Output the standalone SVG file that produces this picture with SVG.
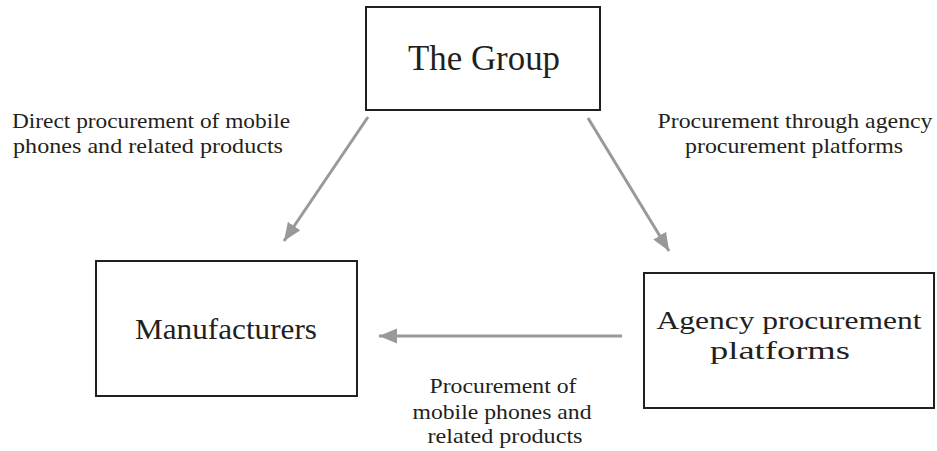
<svg xmlns="http://www.w3.org/2000/svg" width="937" height="451" viewBox="0 0 937 451">
<style>
.box{fill:#fff;stroke:#231f20;stroke-width:2}
.t{font-family:"Liberation Serif","Times New Roman",serif;fill:#231f20}
.node{font-size:29px;text-anchor:middle}
.lbl{font-size:22px;text-anchor:middle}
.conn{stroke:#999;stroke-width:3;fill:none;marker-end:url(#ah)}
</style>
<defs>
<marker id="ah" markerUnits="userSpaceOnUse" markerWidth="20" markerHeight="16" refX="18" refY="7.5" orient="auto">
<path d="M0,0 L18,7.5 L0,15 Z" fill="#999"/>
</marker>
</defs>
<rect width="937" height="451" fill="#fff"/>
<g id="group">
<rect class="box" x="366" y="7" width="234" height="103"/>
<text class="t node" x="484" y="70" style="font-size:35px" textLength="152" lengthAdjust="spacingAndGlyphs">The Group</text>
</g>
<g id="manufacturers">
<rect class="box" x="96" y="261" width="261" height="135"/>
<text class="t node" x="226" y="339" textLength="182" lengthAdjust="spacingAndGlyphs">Manufacturers</text>
</g>
<g id="agency">
<rect class="box" x="644" y="273" width="290" height="135"/>
<text class="t node" x="789" y="329" style="font-size:26px" textLength="265" lengthAdjust="spacingAndGlyphs">Agency procurement</text>
<text class="t node" x="780" y="359" style="font-size:26px" textLength="140" lengthAdjust="spacingAndGlyphs">platforms</text>
</g>
<g id="connectors">
<line class="conn" x1="368" y1="117" x2="284" y2="241"/>
<line class="conn" x1="588" y1="118" x2="669" y2="251"/>
<line class="conn" x1="622" y1="336" x2="379" y2="336"/>
</g>
<g id="labels">
<text class="t lbl" x="151" y="128" textLength="278" lengthAdjust="spacingAndGlyphs">Direct procurement of mobile</text>
<text class="t lbl" x="148" y="153" textLength="270" lengthAdjust="spacingAndGlyphs">phones and related products</text>
<text class="t lbl" x="795" y="128" textLength="275" lengthAdjust="spacingAndGlyphs">Procurement through agency</text>
<text class="t lbl" x="794" y="153" textLength="218" lengthAdjust="spacingAndGlyphs">procurement platforms</text>
<text class="t lbl" x="503" y="393" textLength="147" lengthAdjust="spacingAndGlyphs">Procurement of</text>
<text class="t lbl" x="502" y="419" textLength="179" lengthAdjust="spacingAndGlyphs">mobile phones and</text>
<text class="t lbl" x="505" y="443" textLength="155" lengthAdjust="spacingAndGlyphs">related products</text>
</g>
</svg>
